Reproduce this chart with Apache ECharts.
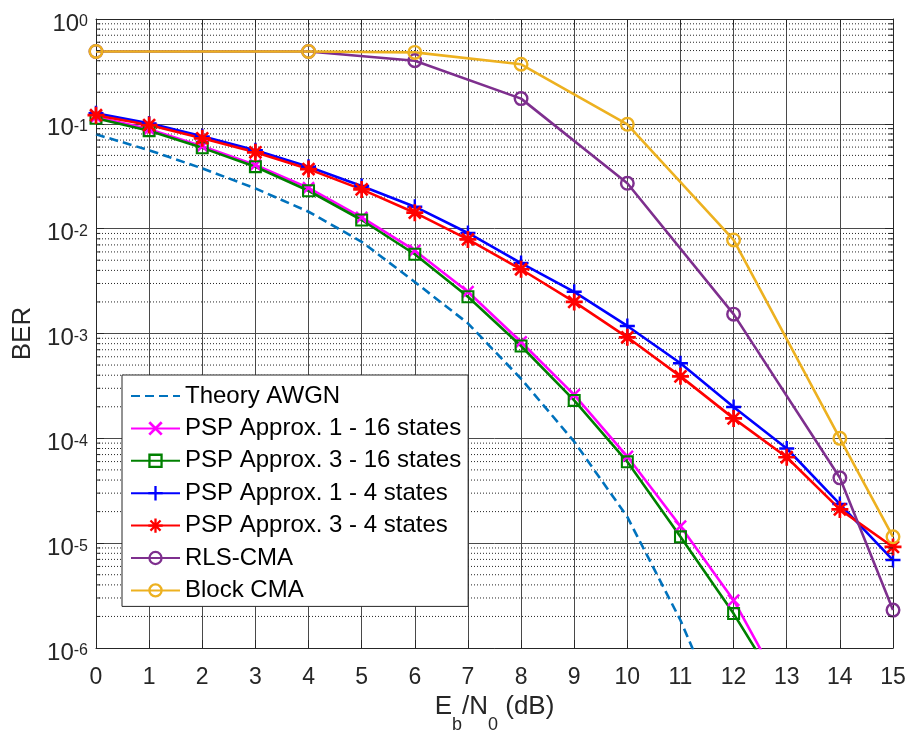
<!DOCTYPE html>
<html><head><meta charset="utf-8">
<script src="https://cdn.jsdelivr.net/npm/echarts@6/dist/echarts.min.js"></script>
<style>html,body{margin:0;padding:0;background:#fff}#c{width:911px;height:733px}</style>
</head><body><div id="c"></div>
<script>
// ---- data ----
const ebn0Theory = [0, 1, 2, 3, 4, 5, 6, 7, 8, 9, 10, 11, 12];
const berTheory  = [0.0794, 0.056, 0.0376, 0.0242, 0.0145, 0.0075, 0.0031, 0.00125, 3.7e-4, 9.3e-5, 1.78e-5, 1.84e-6, 1.2e-7];

const ebn0Psp16  = [0, 1, 2, 3, 4, 5, 6, 7, 8, 9, 10, 11, 12, 13];
const berPsp1_16 = [0.116, 0.089, 0.061, 0.0405, 0.0245, 0.0128, 0.0062, 0.0025, 8.3e-4, 2.6e-4, 6.7e-5, 1.45e-5, 2.86e-6, 3.4e-7];
const berPsp3_16 = [0.113, 0.086, 0.059, 0.039, 0.023, 0.0121, 0.0057, 0.00224, 7.6e-4, 2.3e-4, 5.97e-5, 1.15e-5, 2.13e-6, 3.2e-7];

const ebn0Psp4   = [0, 1, 2, 3, 4, 5, 6, 7, 8, 9, 10, 11, 12, 13, 14, 15];
const berPsp1_4  = [0.126, 0.101, 0.076, 0.056, 0.039, 0.0255, 0.0162, 0.0091, 0.0047, 0.0025, 0.00118, 5.2e-4, 1.99e-4, 8.0e-5, 2.36e-5, 6.9e-6];
const berPsp3_4  = [0.121, 0.0974, 0.0727, 0.0535, 0.037, 0.0237, 0.0142, 0.0079, 0.0041, 0.0020, 9.2e-4, 3.9e-4, 1.55e-4, 6.6e-5, 2.1e-5, 9.2e-6];

const ebn0Cma    = [0, 4, 6, 8, 10, 12, 14, 15];
const berRlsCma  = [0.49, 0.49, 0.40, 0.174, 0.0271, 0.00153, 4.2e-5, 2.3e-6];
const berBlockCma= [0.49, 0.49, 0.48, 0.37, 0.099, 0.0078, 1.0e-4, 1.15e-5];

const seriesNames = ['Theory AWGN', 'PSP Approx. 1 - 16 states', 'PSP Approx. 3 - 16 states',
  'PSP Approx. 1 - 4 states', 'PSP Approx. 3 - 4 states', 'RLS-CMA', 'Block CMA'];
const xMin = 0, xMax = 15, yMin = 1e-6, yMax = 1;
const yLabel = 'BER';

// ---- styling ----
const FONT = 'Liberation Sans';
const COLORS = ['#0072BD', '#FF00FF', '#008000', '#0000FF', '#FF0000', '#7E2F8E', '#EDB120'];
const SYM_PLUS = 'path://M8.4,0H11.6V20H8.4Z M0,8.4H20V11.6H0Z';
const SYM_X = 'path://M4.1,1.9L18.1,15.9L15.9,18.1L1.9,4.1Z M18.1,4.1L4.1,18.1L1.9,15.9L15.9,1.9Z';
const SYM_STAR = SYM_PLUS + ' ' + SYM_X.slice(7);
const SYM_SQUARE = 'path://M0,0H20V20H0Z M3.2,3.2V16.8H16.8V3.2Z';
const SYM_RING = 'path://M0,10A10,10,0,1,1,20,10A10,10,0,1,1,0,10Z M3.2,10A6.8,6.8,0,1,0,16.8,10A6.8,6.8,0,1,0,3.2,10Z';

function pairs(xs, ys) { return xs.map((x, i) => [x, ys[i]]); }

function mk(name, xs, ys, color, symbol, size, dashed) {
  return {
    name, type: 'line', data: pairs(xs, ys),
    symbol: symbol || 'none', symbolSize: size || 0, symbolKeepAspect: true,
    showSymbol: !!symbol, clip: true, z: 3,
    lineStyle: { color, width: 2.6, type: dashed ? [9, 5] : 'solid' },
    itemStyle: { color },
    emphasis: { disabled: true }
  };
}

// minor grid lines and minor ticks (log decades, mantissa 2..9)
const minorVals = [];
for (let e = -6; e < 0; e++) for (let m = 2; m <= 9; m++) minorVals.push(m * Math.pow(10, e));
function segSeries(x0, x1, v, style, z) {
  return {
    type: 'line', data: [[x0, v], [x1, v]], symbol: 'none', showSymbol: false,
    silent: true, z, clip: false, lineStyle: style, emphasis: { disabled: true }, tooltip: { show: false }
  };
}
const dotted = { color: '#262626', width: 1, type: [1, 2] };
const solid = { color: '#262626', width: 1, type: 'solid' };
const gridSeries = [];
minorVals.forEach(v => {
  gridSeries.push(segSeries(xMin, xMax, v, dotted, 1));
  gridSeries.push(segSeries(xMin, xMin + 0.08, v, solid, 4));
  gridSeries.push(segSeries(xMax - 0.08, xMax, v, solid, 4));
});

const legendData = seriesNames.map((n, i) => i === 0
  ? { name: n, itemStyle: { color: 'rgba(0,0,0,0)', borderWidth: 0, opacity: 0 } }
  : { name: n });

const chart = echarts.init(document.getElementById('c'), null, { renderer: 'canvas' });
chart.setOption({
  animation: false,
  backgroundColor: '#fff',
  textStyle: { fontFamily: FONT },
  grid: { left: 96, top: 19, right: 18, bottom: 85, outerBoundsMode: 'none', containLabel: false },
  legend: {
    data: legendData, orient: 'vertical', left: 122, top: 375,
    itemWidth: 49, itemHeight: 18, itemGap: 8.4,
    padding: [9, 7, 4, 8], backgroundColor: '#fff',
    borderColor: '#262626', borderWidth: 1, borderRadius: 0,
    selectedMode: false,
    textStyle: { fontFamily: FONT, fontSize: 24, color: '#000', lineHeight: 24 }
  },
  xAxis: [{
    type: 'value', min: xMin, max: xMax, interval: 1, position: 'bottom',
    name: '{n|E}{sub|b}{n|/N}{sub|0}{n| (dB)}', nameLocation: 'middle', nameGap: 45,
    nameTextStyle: {
      rich: {
        n: { fontFamily: FONT, fontSize: 26, color: '#262626', lineHeight: 28, verticalAlign: 'top' },
        sub: { fontFamily: FONT, fontSize: 18, color: '#262626', lineHeight: 18, padding: [22, 0, 0, 0], verticalAlign: 'top' }
      }
    },
    axisLine: { show: true, onZero: false, lineStyle: { color: '#262626', width: 1 } },
    axisTick: { show: true, inside: true, length: 8, lineStyle: { color: '#262626' } },
    axisLabel: { fontFamily: FONT, fontSize: 23, color: '#262626', margin: 18 },
    splitLine: { show: true, lineStyle: { color: '#4a4a4a', width: 1 } }
  }, {
    type: 'value', min: xMin, max: xMax, interval: 1, position: 'top',
    axisLine: { show: true, onZero: false, lineStyle: { color: '#262626', width: 1 } },
    axisTick: { show: true, inside: true, length: 8, lineStyle: { color: '#262626' } },
    axisLabel: { show: false }, splitLine: { show: false }
  }],
  yAxis: [{
    type: 'log', logBase: 10, min: yMin, max: yMax, splitNumber: 6, position: 'left',
    name: yLabel, nameLocation: 'middle', nameGap: 58, nameRotate: 90,
    nameTextStyle: { fontFamily: FONT, fontSize: 26, color: '#262626' },
    axisLine: { show: true, onZero: false, lineStyle: { color: '#262626', width: 1 } },
    axisTick: { show: true, inside: true, length: 8, lineStyle: { color: '#262626' } },
    axisLabel: {
      margin: 8,
      formatter: v => '{b|10}{s|' + Math.round(Math.log10(v)) + '}',
      rich: {
        b: { fontFamily: FONT, fontSize: 24, color: '#262626', lineHeight: 30, padding: [10, 0, 0, 0] },
        s: { fontFamily: FONT, fontSize: 16, color: '#262626', lineHeight: 14, padding: [10, 0, 0, 0], verticalAlign: 'top' }
      }
    },
    splitLine: { show: true, lineStyle: { color: '#4a4a4a', width: 1 } }
  }, {
    type: 'log', logBase: 10, min: yMin, max: yMax, splitNumber: 6, position: 'right',
    axisLine: { show: true, onZero: false, lineStyle: { color: '#262626', width: 1 } },
    axisTick: { show: true, inside: true, length: 8, lineStyle: { color: '#262626' } },
    axisLabel: { show: false }, splitLine: { show: false }
  }],
  series: gridSeries.concat([
    mk(seriesNames[0], ebn0Theory, berTheory, COLORS[0], null, 0, true),
    mk(seriesNames[1], ebn0Psp16, berPsp1_16, COLORS[1], SYM_X, 13),
    mk(seriesNames[2], ebn0Psp16, berPsp3_16, COLORS[2], SYM_SQUARE, 13),
    mk(seriesNames[3], ebn0Psp4, berPsp1_4, COLORS[3], SYM_PLUS, 15),
    mk(seriesNames[4], ebn0Psp4, berPsp3_4, COLORS[4], SYM_STAR, 17),
    mk(seriesNames[5], ebn0Cma, berRlsCma, COLORS[5], SYM_RING, 15),
    mk(seriesNames[6], ebn0Cma, berBlockCma, COLORS[6], SYM_RING, 15)
  ])
});
</script></body></html>
